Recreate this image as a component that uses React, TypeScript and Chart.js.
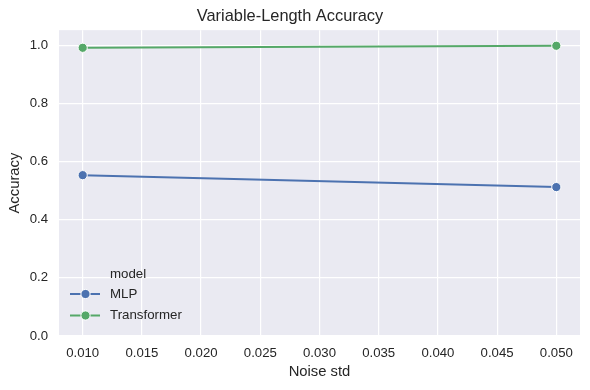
import React, { useEffect, useRef } from "react";
import { Chart, registerables } from "chart.js";

Chart.register(...registerables);

const noiseStd = [0.01, 0.05];
const mlpAccuracy = [0.553, 0.512];
const transformerAccuracy = [0.991, 0.998];
const xTickValues = [0.01, 0.015, 0.02, 0.025, 0.03, 0.035, 0.04, 0.045, 0.05];
const yTickValues = [0, 0.2, 0.4, 0.6, 0.8, 1.0];
const seriesNames = ["MLP", "Transformer"];
const seriesColors = ["#4C72B0", "#55A868"];

const FONT = "'Liberation Sans', Arial, sans-serif";
const TEXT = "#262626";

const legendPlugin = {
  id: "innerLegend",
  afterDraw(chart: any) {
    const { ctx, chartArea } = chart;
    const left = chartArea.left;
    const bottom = chartArea.bottom;
    ctx.save();
    ctx.font = `13.3px ${FONT}`;
    ctx.fillStyle = TEXT;
    ctx.textBaseline = "middle";
    ctx.textAlign = "left";
    ctx.fillText("model", left + 51, bottom - 62);
    const rows = [bottom - 42, bottom - 20.5];
    chart.data.datasets.forEach((ds: any, i: number) => {
      const y = rows[i];
      ctx.strokeStyle = ds.borderColor;
      ctx.lineWidth = 2;
      ctx.beginPath();
      ctx.moveTo(left + 11, y);
      ctx.lineTo(left + 41, y);
      ctx.stroke();
      ctx.beginPath();
      ctx.arc(left + 26.5, y, 4.6, 0, Math.PI * 2);
      ctx.fillStyle = ds.borderColor;
      ctx.fill();
      ctx.strokeStyle = "#ffffff";
      ctx.lineWidth = 1;
      ctx.stroke();
      ctx.fillStyle = TEXT;
      ctx.fillText(ds.label, left + 51, y);
    });
    ctx.restore();
  },
};

const bgPlugin = {
  id: "plotBg",
  beforeDraw(chart: any) {
    const { ctx, chartArea } = chart;
    ctx.save();
    ctx.fillStyle = "#ffffff";
    ctx.fillRect(0, 0, chart.width, chart.height);
    ctx.fillStyle = "#EAEAF2";
    ctx.fillRect(chartArea.left, chartArea.top, chartArea.right - chartArea.left, chartArea.bottom - chartArea.top);
    ctx.restore();
  },
};

export default function App() {
  const canvasRef = useRef<HTMLCanvasElement | null>(null);

  useEffect(() => {
    if (!canvasRef.current) return;
    const allSeries = [mlpAccuracy, transformerAccuracy];
    const chart = new Chart(canvasRef.current, {
      type: "line",
      data: {
        datasets: allSeries.map((vals, i) => ({
          label: seriesNames[i],
          data: noiseStd.map((x, j) => ({ x, y: vals[j] })),
          borderColor: seriesColors[i],
          backgroundColor: seriesColors[i],
          borderWidth: 2,
          pointRadius: 4.6,
          pointBorderColor: "#ffffff",
          pointBorderWidth: 1,
          pointBackgroundColor: seriesColors[i],
          tension: 0,
        })),
      },
      options: {
        responsive: false,
        animation: false,
        layout: { padding: { left: 0, right: 10, top: 0, bottom: 0 } },
        plugins: {
          legend: { display: false },
          tooltip: { enabled: false },
          title: {
            display: true,
            text: "Variable-Length Accuracy",
            color: TEXT,
            font: { family: FONT, size: 16.4, weight: "normal" },
            padding: { top: 6.5, bottom: 4 },
          },
        },
        scales: {
          x: {
            type: "linear",
            min: 0.008,
            max: 0.052,
            afterBuildTicks: (scale: any) => {
              scale.ticks = xTickValues.map((v) => ({ value: v }));
            },
            afterFit: (scale: any) => {
              scale.height = 54;
            },
            ticks: {
              color: TEXT,
              font: { family: FONT, size: 13.2 },
              padding: 9,
              maxRotation: 0,
              autoSkip: false,
              callback: (v: any) => Number(v).toFixed(3),
            },
            grid: { color: "#ffffff", lineWidth: 1.2, drawTicks: false },
            border: { display: false },
            title: {
              display: true,
              text: "Noise std",
              color: TEXT,
              font: { family: FONT, size: 14.8 },
              padding: { top: 0, bottom: 9.1 },
            },
          },
          y: {
            type: "linear",
            min: 0,
            max: 1.0515,
            afterBuildTicks: (scale: any) => {
              scale.ticks = yTickValues.map((v) => ({ value: v }));
            },
            afterFit: (scale: any) => {
              scale.width = 59;
            },
            ticks: {
              color: TEXT,
              font: { family: FONT, size: 13.2 },
              padding: 11,
              autoSkip: false,
              callback: (v: any) => Number(v).toFixed(1),
            },
            grid: { color: "#ffffff", lineWidth: 1.2, drawTicks: false },
            border: { display: false },
            title: {
              display: true,
              text: "Accuracy",
              color: TEXT,
              font: { family: FONT, size: 14.8 },
              padding: { top: 6.1, bottom: 0 },
            },
          },
        },
      },
      plugins: [bgPlugin, legendPlugin],
    } as any);
    return () => chart.destroy();
  }, []);

  return (
    <div style={{ position: "fixed", left: 0, top: 0, width: 590, height: 390, background: "#fff" }}>
      <canvas ref={canvasRef} width={590} height={390} style={{ display: "block" }} />
    </div>
  );
}
